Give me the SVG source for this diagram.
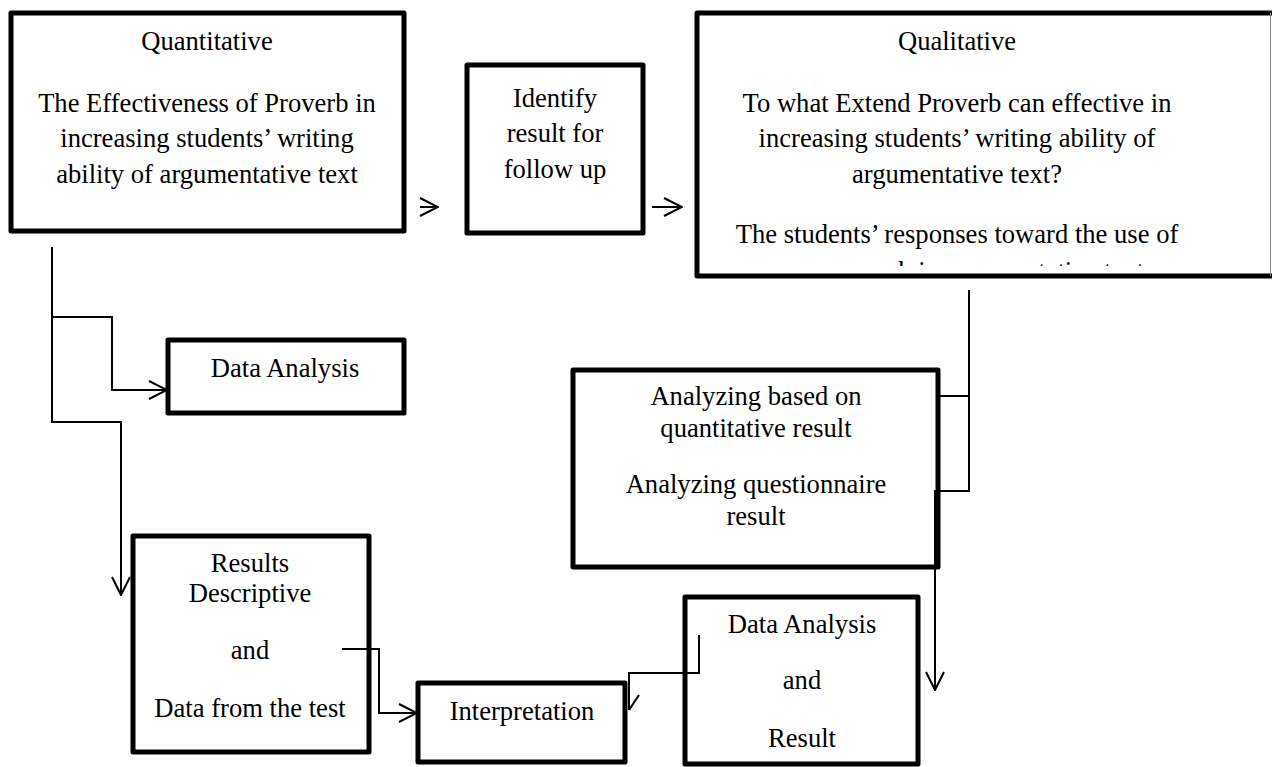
<svg xmlns="http://www.w3.org/2000/svg" width="1272" height="767" viewBox="0 0 1272 767">
<style>
.box{fill:none;stroke:#000;stroke-width:5;stroke-linejoin:round}
.t{font-family:"Liberation Serif","Times New Roman",serif;font-size:26.6px;fill:#000;text-anchor:middle}
.c{fill:none;stroke:#000;stroke-width:2}
</style>
<defs>
<marker id="arr" viewBox="0 0 20 20" refX="19" refY="10" markerWidth="20" markerHeight="20" orient="auto" markerUnits="userSpaceOnUse">
<path d="M1,1 L19,10 L1,19" fill="none" stroke="#000" stroke-width="2"/>
</marker>
<clipPath id="qclip"><rect x="697" y="13" width="580" height="253"/></clipPath>
</defs>
<rect width="1272" height="767" fill="#fff"/>
<g id="quantitative">
<rect class="box" x="11" y="13" width="393" height="218"/>
<text class="t" x="207" y="50">Quantitative</text>
<text class="t" x="207" y="112">The Effectiveness of Proverb in</text>
<text class="t" x="207" y="147">increasing students’ writing</text>
<text class="t" x="207" y="183">ability of argumentative text</text>
</g>
<g id="identify">
<rect class="box" x="467" y="65" width="176" height="168"/>
<text class="t" x="555" y="107">Identify</text>
<text class="t" x="555" y="142">result for</text>
<text class="t" x="555" y="178">follow up</text>
</g>
<g id="qualitative">
<rect class="box" x="697" y="13" width="600" height="263"/>
<line x1="1270.5" y1="13" x2="1270.5" y2="276" stroke="#888" stroke-width="1"/>
<text class="t" x="957" y="50">Qualitative</text>
<text class="t" x="957" y="112">To what Extend Proverb can effective in</text>
<text class="t" x="957" y="147">increasing students’ writing ability of</text>
<text class="t" x="957" y="183">argumentative text?</text>
<text class="t" x="957" y="243">The students’ responses toward the use of</text>
<text class="t" x="829" y="280" style="text-anchor:start" clip-path="url(#qclip)">proverb in argumentative text</text>
</g>
<g id="data-analysis">
<rect class="box" x="168" y="340" width="236" height="73"/>
<text class="t" x="285" y="377">Data Analysis</text>
</g>
<g id="results">
<rect class="box" x="133" y="536" width="236" height="216"/>
<text class="t" x="250" y="572">Results</text>
<text class="t" x="250" y="602">Descriptive</text>
<text class="t" x="250" y="659">and</text>
<text class="t" x="250" y="717">Data from the test</text>
</g>
<g id="interpretation">
<rect class="box" x="418" y="683" width="207" height="79"/>
<text class="t" x="522" y="720">Interpretation</text>
</g>
<g id="analyzing">
<rect class="box" x="573" y="370" width="365" height="197"/>
<text class="t" x="756" y="405">Analyzing based on</text>
<text class="t" x="756" y="437">quantitative result</text>
<text class="t" x="756" y="493">Analyzing questionnaire</text>
<text class="t" x="756" y="525">result</text>
</g>
<g id="data-result">
<rect class="box" x="685" y="597" width="233" height="167"/>
<text class="t" x="802" y="633">Data Analysis</text>
<text class="t" x="802" y="689">and</text>
<text class="t" x="802" y="747">Result</text>
</g>
<g id="connectors">
<path class="c" d="M420,207 H438" marker-end="url(#arr)"/>
<path class="c" d="M652,207 H682" marker-end="url(#arr)"/>
<path class="c" d="M52,247 V422 H121 V595" marker-end="url(#arr)"/>
<path class="c" d="M52,317 H112 V390 H167" marker-end="url(#arr)"/>
<path class="c" d="M342,649 H379 V713 H417" marker-end="url(#arr)"/>
<path class="c" d="M699,635 V673 H629 V710"/>
<path class="c" d="M639,695 L629,710"/>
<path class="c" d="M969,290 V492 M940,396 H969 M940,491 H969"/>
<path class="c" d="M935,490 V690" marker-end="url(#arr)"/>
</g>
</svg>
